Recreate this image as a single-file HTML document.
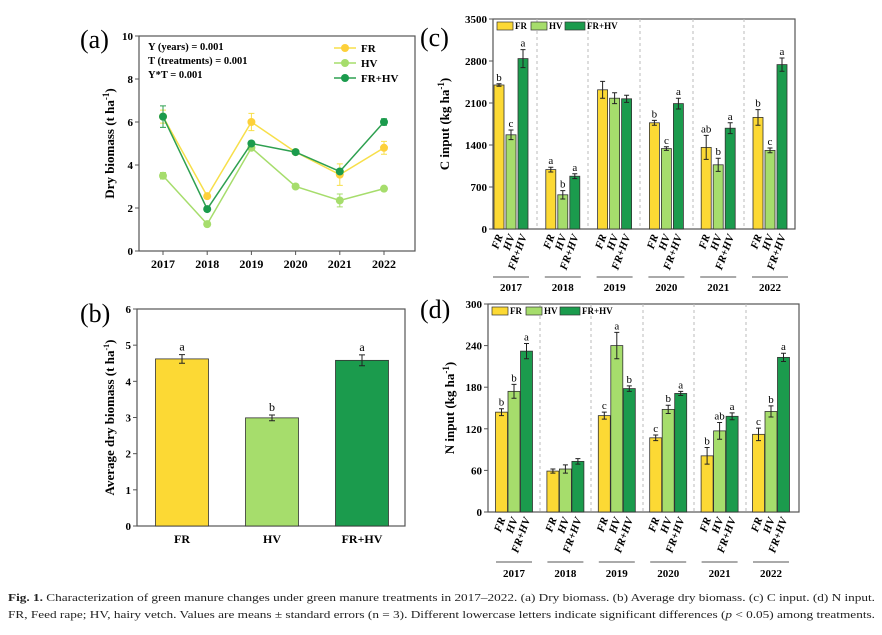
<!DOCTYPE html>
<html><head><meta charset="utf-8"><style>
html,body{margin:0;padding:0;background:#fff;}
svg{display:block;font-family:"Liberation Serif",serif;}
</style></head><body>
<svg id="fig" width="882" height="635" viewBox="0 0 882 635" xmlns="http://www.w3.org/2000/svg">
<g id="ga"></g>
<g id="gb"></g>
<g id="gc"></g>
<g id="gd"></g>
<text x="8" y="601" font-size="11" textLength="867" lengthAdjust="spacingAndGlyphs" fill="#222"><tspan font-weight="bold">Fig. 1.</tspan>  Characterization of green manure changes under green manure treatments in 2017–2022. (a) Dry biomass. (b) Average dry biomass. (c) C input. (d) N input.</text>
<text x="8" y="618" font-size="11" textLength="867" lengthAdjust="spacingAndGlyphs" fill="#222">FR, Feed rape; HV, hairy vetch. Values are means ± standard errors (n = 3). Different lowercase letters indicate significant differences (<tspan font-style="italic">p</tspan> &lt; 0.05) among treatments.</text>
</svg>
<script>
const years = ["2017","2018","2019","2020","2021","2022"];
const treatments = ["FR","HV","FR+HV"];
const dryFR = [6.25,2.55,6.0,4.6,3.55,4.8];
const dryHV = [3.5,1.25,4.8,3.0,2.35,2.9];
const dryFRHV = [6.25,1.95,5.0,4.6,3.7,6.0];
const dryErrFR = [0.3,0.1,0.4,0.1,0.5,0.3];
const dryErrHV = [0.15,0.1,0.1,0.1,0.3,0.1];
const dryErrFRHV = [0.5,0.1,0.1,0.1,0.1,0.15];
const avgVals = [4.62,2.99,4.58];
const avgErr = [0.12,0.08,0.15];
const avgLetters = ["a","b","a"];
const cFR = [2400,990,2320,1770,1360,1860];
const cHV = [1570,570,2180,1340,1070,1310];
const cFRHV = [2840,880,2170,2090,1680,2740];
const cErrFR = [20,40,140,40,200,130];
const cErrHV = [80,70,90,30,110,40];
const cErrFRHV = [150,40,60,90,90,110];
const cLetters = [["b","c","a"],["a","b","a"],["","",""],["b","c","a"],["ab","b","a"],["b","c","a"]];
const nFR = [144,59,139,107,81,112];
const nHV = [174,62,240,148,117,145];
const nFRHV = [232,73,178,171,138,223];
const nErrFR = [5,3,5,4,12,9];
const nErrHV = [10,6,19,6,12,8];
const nErrFRHV = [11,4,4,3,5,6];
const nLetters = [["b","b","a"],["","",""],["c","a","b"],["c","b","a"],["b","ab","a"],["c","b","a"]];
const ticksA = [0,2,4,6,8,10];
const ticksB = [0,1,2,3,4,5,6];
const ticksC = [0,700,1400,2100,2800,3500];
const ticksD = [0,60,120,180,240,300];

const NS="http://www.w3.org/2000/svg";
const COLS=["#fcd934","#a6dd6c","#1b9b4d"];
function el(p,tag,at,txt){const e=document.createElementNS(NS,tag);for(const k in at)e.setAttribute(k,at[k]);if(txt!==undefined)e.textContent=txt;p.appendChild(e);return e;}
function lin(d0,d1,r0,r1){return v=>r0+(v-d0)/(d1-d0)*(r1-r0);}
function frame(g,L,R,T,B,ticks,y,ylabel,lx,panel,px,py){
  const f=el(g,"rect",{x:L,y:T,width:R-L,height:B-T,fill:"none",stroke:"#555","stroke-width":1.2});
  
  ticks.forEach(t=>{
    const tl=el(g,"line",{x1:L-4,x2:L,y1:y(t),y2:y(t),stroke:"#555"});
    
    const tx=el(g,"text",{x:L-6,y:y(t)+4,"text-anchor":"end","font-size":11,"font-weight":"bold"},t);
    
  });
  const yl=el(g,"text",{x:0,y:0,transform:`translate(${lx},${(T+B)/2}) rotate(-90)`,"text-anchor":"middle","font-size":13,"font-weight":"bold"});
  
  yl.innerHTML=ylabel;
  const pl=el(g,"text",{x:px,y:py,"font-size":26},panel);
  
}
function ebar(g,x,y0,y1,w){
  const e=el(g,"path",{d:`M${x},${y0}V${y1}M${x-w},${y0}H${x+w}M${x-w},${y1}H${x+w}`,stroke:"#222","stroke-width":1,fill:"none"});
  
}
// panel a
(function(){
  const g=document.getElementById("ga");
  const L=139,R=415,T=36,B=251;
  const y=lin(0,10,B,T);
  const x=i=>163+i*44.2;
  frame(g,L,R,T,B,ticksA,y,'Dry biomass (t ha<tspan dy="-5" font-size="9">-1</tspan><tspan dy="5">)</tspan>',114,"(a)",80,48);
  years.forEach((yr,i)=>{
    const t=el(g,"line",{x1:x(i),x2:x(i),y1:B,y2:B+4,stroke:"#555"});
    const l=el(g,"text",{x:x(i),y:B+17,"text-anchor":"middle","font-size":12,"font-weight":"bold"},yr);
    
  });
  const series=[[dryFR,dryErrFR,"#f7df4a","#fdd03a"],[dryHV,dryErrHV,"#a6dd6c","#a6dd6c"],[dryFRHV,dryErrFRHV,"#2ea050","#1b9b4d"]];
  const names=["fr","hv","fr-hv"];
  series.forEach((s,k)=>{
    const pts=s[0].map((v,i)=>x(i)+","+y(v)).join(" ");
    const pl=el(g,"polyline",{points:pts,fill:"none",stroke:s[2],"stroke-width":1.5});
    
    s[0].forEach((v,i)=>{
      const e=el(g,"path",{d:`M${x(i)},${y(v-s[1][i])}V${y(v+s[1][i])}M${x(i)-3},${y(v-s[1][i])}H${x(i)+3}M${x(i)-3},${y(v+s[1][i])}H${x(i)+3}`,stroke:s[2],fill:"none"});
      
      const c=el(g,"circle",{cx:x(i),cy:y(v),r:4,fill:s[3]});
      
    });
  });
  const st=["Y (years) = 0.001","T (treatments) = 0.001","Y*T = 0.001"];
  st.forEach((s,i)=>{const t=el(g,"text",{x:148,y:50+i*14,"font-size":10.5,"font-weight":"bold"},s);});
  treatments.forEach((n,i)=>{
    const yy=48+i*15;const s=series[i];
    const ln=el(g,"line",{x1:334,x2:356,y1:yy,y2:yy,stroke:s[2],"stroke-width":1.5});
    const c=el(g,"circle",{cx:345,cy:yy,r:4,fill:s[3]});
    const t=el(g,"text",{x:361,y:yy+4,"font-size":11,"font-weight":"bold"},n);
  });
})();
// panel b
(function(){
  const g=document.getElementById("gb");
  const L=137,R=405,T=309,B=526;
  const y=lin(0,6,B,T);
  const x=i=>182+i*90;
  frame(g,L,R,T,B,ticksB,y,'Average dry biomass (t ha<tspan dy="-5" font-size="8">-1</tspan><tspan dy="5">)</tspan>',114,"(b)",80,322);
  avgVals.forEach((v,i)=>{
    const r=el(g,"rect",{x:x(i)-26.5,y:y(v),width:53,height:B-y(v),fill:COLS[i],stroke:"#333","stroke-width":0.8});
    
    ebar(g,x(i),y(v-avgErr[i]),y(v+avgErr[i]),3);
    const lt=el(g,"text",{x:x(i),y:y(v+avgErr[i])-4,"text-anchor":"middle","font-size":12},avgLetters[i]);
    
    const tl=el(g,"text",{x:x(i),y:B+17,"text-anchor":"middle","font-size":12,"font-weight":"bold"},treatments[i]);
    
  });
})();
function groupPanel(g,cfg){
  const {L,R,T,B,max,ticks,vals,errs,letters,ylabel,lx,panel,px,py,x0,dx,bw,bs,rotY,lineY,yearY,divs}=cfg;
  const y=lin(0,max,B,T);
  frame(g,L,R,T,B,ticks,y,ylabel,lx,panel,px,py);
  divs.forEach(dv=>{const d=el(g,"line",{x1:dv,x2:dv,y1:T,y2:B,stroke:"#bbb","stroke-dasharray":"3,3"});});
  years.forEach((yr,gi)=>{
    const cx=x0+gi*dx;
    for(let k=0;k<3;k++){
      const bx=cx+(k-1)*bs;const v=vals[k][gi];const e=errs[k][gi];
      const r=el(g,"rect",{x:bx-bw/2,y:y(v),width:bw,height:B-y(v),fill:COLS[k],stroke:"#333","stroke-width":0.8});
      
      ebar(g,bx,y(v-e),y(v+e),2.5);
      if(letters[gi][k]){const lt=el(g,"text",{x:bx,y:y(v+e)-3,"text-anchor":"middle","font-size":11},letters[gi][k]);}
      const tl=el(g,"text",{x:0,y:0,transform:`translate(${bx+4},${rotY}) rotate(-70)`,"text-anchor":"end","font-size":11,"font-weight":"bold","font-style":"italic"},treatments[k]);
      
    }
    const ln=el(g,"line",{x1:cx-18,x2:cx+18,y1:lineY,y2:lineY,stroke:"#555"});
    const yt=el(g,"text",{x:cx,y:yearY,"text-anchor":"middle","font-size":11,"font-weight":"bold"},yr);
  });
  const lg=[[L+4,"FR"],[L+38,"HV"],[L+72,"FR+HV"]];
  lg.forEach((l,k)=>{
    const r=el(g,"rect",{x:l[0],y:T+3,width:k==2?20:16,height:8,fill:COLS[k],stroke:"#333","stroke-width":0.7});
    const t=el(g,"text",{x:l[0]+(k==2?22:18),y:T+10,"font-size":9,"font-weight":"bold"},l[1]);
  });
}
groupPanel(document.getElementById("gc"),{L:493,R:795,T:19,B:229,max:3500,ticks:ticksC,vals:[cFR,cHV,cFRHV],errs:[cErrFR,cErrHV,cErrFRHV],letters:cLetters,
  ylabel:'C input (kg ha<tspan dy="-5" font-size="9">-1</tspan><tspan dy="5">)</tspan>',lx:449,panel:"(c)",px:420,py:46,x0:511,dx:51.8,bw:10,bs:12,rotY:236,lineY:277,yearY:291,divs:[537,588,640,693,744]});
groupPanel(document.getElementById("gd"),{L:488,R:799,T:304,B:512,max:300,ticks:ticksD,vals:[nFR,nHV,nFRHV],errs:[nErrFR,nErrHV,nErrFRHV],letters:nLetters,
  ylabel:'N input (kg ha<tspan dy="-5" font-size="9">-1</tspan><tspan dy="5">)</tspan>',lx:454,panel:"(d)",px:420,py:318,x0:514,dx:51.4,bw:12,bs:12.5,rotY:519,lineY:562,yearY:577,divs:[540,591,643,694,746]});
</script>
</body></html>
